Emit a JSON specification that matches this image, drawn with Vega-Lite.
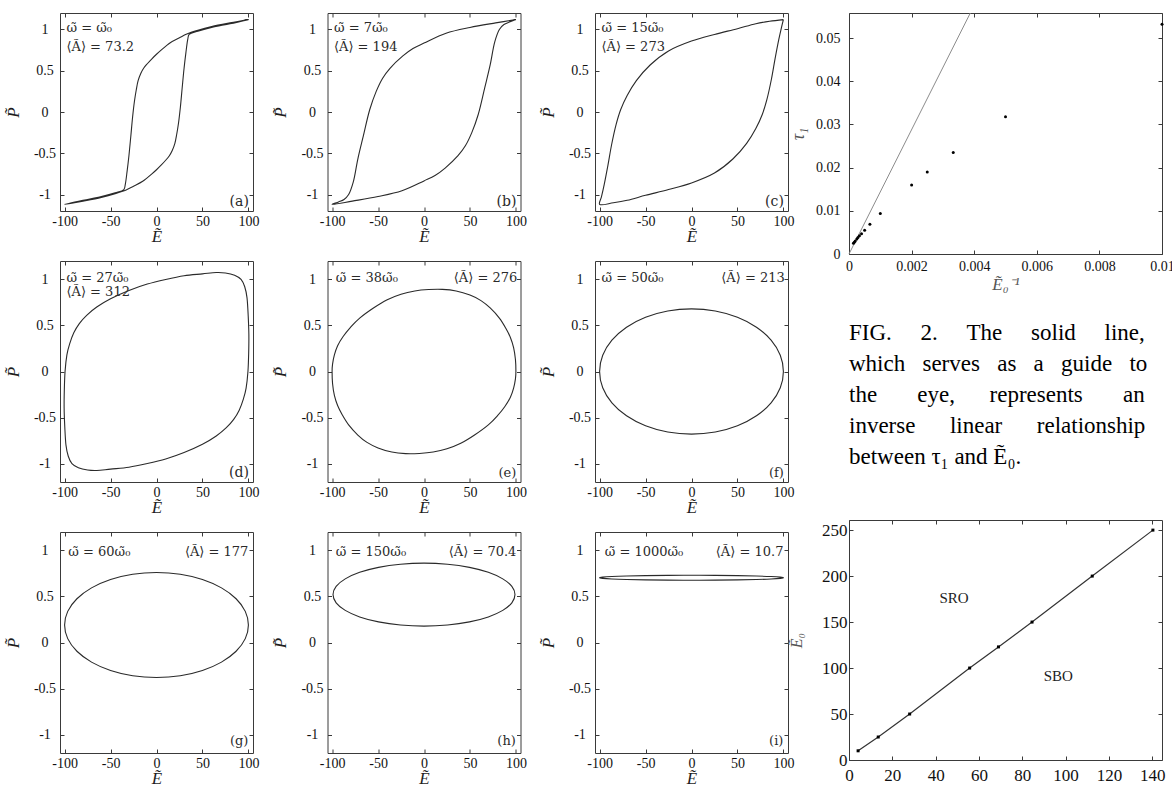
{
"$schema": "https://vega.github.io/schema/vega-lite/v6.json",
"background": "white",
"padding": {"left": 3, "top": 10, "right": 0, "bottom": 0},
"datasets": {
"loops": [
{"p":"a","i":0,"E":100,"P":1.12},{"p":"a","i":1,"E":80,"P":1.08},{"p":"a","i":2,"E":60,"P":1.035},{"p":"a","i":3,"E":45,"P":0.99},{"p":"a","i":4,"E":33,"P":0.945},{"p":"a","i":5,"E":25,"P":0.9},{"p":"a","i":6,"E":15,"P":0.84},{"p":"a","i":7,"E":5,"P":0.75},{"p":"a","i":8,"E":0,"P":0.7},{"p":"a","i":9,"E":-5,"P":0.645},{"p":"a","i":10,"E":-10,"P":0.585},{"p":"a","i":11,"E":-14,"P":0.53},{"p":"a","i":12,"E":-17,"P":0.47},{"p":"a","i":13,"E":-20,"P":0.38},{"p":"a","i":14,"E":-22,"P":0.27},{"p":"a","i":15,"E":-24,"P":0.13},{"p":"a","i":16,"E":-26,"P":-0.06},{"p":"a","i":17,"E":-28,"P":-0.3},{"p":"a","i":18,"E":-30,"P":-0.53},{"p":"a","i":19,"E":-32,"P":-0.72},{"p":"a","i":20,"E":-34,"P":-0.88},{"p":"a","i":21,"E":-35.5,"P":-0.94},{"p":"a","i":22,"E":-45,"P":-0.98},{"p":"a","i":23,"E":-60,"P":-1.025},{"p":"a","i":24,"E":-80,"P":-1.07},
{"p":"a","i":25,"E":-100,"P":-1.12},{"p":"a","i":26,"E":-80,"P":-1.08},{"p":"a","i":27,"E":-60,"P":-1.035},{"p":"a","i":28,"E":-45,"P":-0.99},{"p":"a","i":29,"E":-33,"P":-0.945},{"p":"a","i":30,"E":-25,"P":-0.9},{"p":"a","i":31,"E":-15,"P":-0.84},{"p":"a","i":32,"E":-5,"P":-0.75},{"p":"a","i":33,"E":0,"P":-0.7},{"p":"a","i":34,"E":5,"P":-0.645},{"p":"a","i":35,"E":10,"P":-0.585},{"p":"a","i":36,"E":14,"P":-0.53},{"p":"a","i":37,"E":17,"P":-0.47},{"p":"a","i":38,"E":20,"P":-0.38},{"p":"a","i":39,"E":22,"P":-0.27},{"p":"a","i":40,"E":24,"P":-0.13},{"p":"a","i":41,"E":26,"P":0.06},{"p":"a","i":42,"E":28,"P":0.3},{"p":"a","i":43,"E":30,"P":0.53},{"p":"a","i":44,"E":32,"P":0.72},{"p":"a","i":45,"E":34,"P":0.88},{"p":"a","i":46,"E":35.5,"P":0.94},{"p":"a","i":47,"E":45,"P":0.98},{"p":"a","i":48,"E":60,"P":1.025},{"p":"a","i":49,"E":80,"P":1.07},{"p":"a","i":50,"E":100,"P":1.12},
{"p":"b","i":0,"E":100,"P":1.12},{"p":"b","i":1,"E":78,"P":1.08},{"p":"b","i":2,"E":50,"P":1.025},{"p":"b","i":3,"E":24,"P":0.955},{"p":"b","i":4,"E":0,"P":0.835},{"p":"b","i":5,"E":-12,"P":0.77},{"p":"b","i":6,"E":-23,"P":0.68},{"p":"b","i":7,"E":-37,"P":0.53},{"p":"b","i":8,"E":-45,"P":0.41},{"p":"b","i":9,"E":-52,"P":0.25},{"p":"b","i":10,"E":-59,"P":0.03},{"p":"b","i":11,"E":-66,"P":-0.29},{"p":"b","i":12,"E":-72,"P":-0.57},{"p":"b","i":13,"E":-77,"P":-0.85},{"p":"b","i":14,"E":-82,"P":-1.0},{"p":"b","i":15,"E":-87,"P":-1.06},{"p":"b","i":16,"E":-93,"P":-1.09},
{"p":"b","i":17,"E":-100,"P":-1.12},{"p":"b","i":18,"E":-78,"P":-1.08},{"p":"b","i":19,"E":-50,"P":-1.025},{"p":"b","i":20,"E":-24,"P":-0.955},{"p":"b","i":21,"E":0,"P":-0.835},{"p":"b","i":22,"E":12,"P":-0.77},{"p":"b","i":23,"E":23,"P":-0.68},{"p":"b","i":24,"E":37,"P":-0.53},{"p":"b","i":25,"E":45,"P":-0.41},{"p":"b","i":26,"E":52,"P":-0.25},{"p":"b","i":27,"E":59,"P":-0.03},{"p":"b","i":28,"E":66,"P":0.29},{"p":"b","i":29,"E":72,"P":0.57},{"p":"b","i":30,"E":77,"P":0.85},{"p":"b","i":31,"E":82,"P":1.0},{"p":"b","i":32,"E":87,"P":1.06},{"p":"b","i":33,"E":93,"P":1.09},{"p":"b","i":34,"E":100,"P":1.12},
{"p":"c","i":0,"E":100,"P":1.12},{"p":"c","i":1,"E":85,"P":1.1},{"p":"c","i":2,"E":70,"P":1.07},{"p":"c","i":3,"E":50,"P":1.01},{"p":"c","i":4,"E":25,"P":0.94},{"p":"c","i":5,"E":0,"P":0.86},{"p":"c","i":6,"E":-25,"P":0.74},{"p":"c","i":7,"E":-45,"P":0.57},{"p":"c","i":8,"E":-60,"P":0.38},{"p":"c","i":9,"E":-70,"P":0.2},{"p":"c","i":10,"E":-77,"P":0.03},{"p":"c","i":11,"E":-82,"P":-0.15},{"p":"c","i":12,"E":-87,"P":-0.4},{"p":"c","i":13,"E":-91,"P":-0.65},{"p":"c","i":14,"E":-95,"P":-0.88},{"p":"c","i":15,"E":-98,"P":-1.03},
{"p":"c","i":16,"E":-100,"P":-1.12},{"p":"c","i":17,"E":-85,"P":-1.1},{"p":"c","i":18,"E":-70,"P":-1.07},{"p":"c","i":19,"E":-50,"P":-1.01},{"p":"c","i":20,"E":-25,"P":-0.94},{"p":"c","i":21,"E":0,"P":-0.86},{"p":"c","i":22,"E":25,"P":-0.74},{"p":"c","i":23,"E":45,"P":-0.57},{"p":"c","i":24,"E":60,"P":-0.38},{"p":"c","i":25,"E":70,"P":-0.2},{"p":"c","i":26,"E":77,"P":-0.03},{"p":"c","i":27,"E":82,"P":0.15},{"p":"c","i":28,"E":87,"P":0.4},{"p":"c","i":29,"E":91,"P":0.65},{"p":"c","i":30,"E":95,"P":0.88},{"p":"c","i":31,"E":98,"P":1.03},{"p":"c","i":32,"E":100,"P":1.12},
{"p":"d","i":0,"E":50,"P":1.06},{"p":"d","i":1,"E":65,"P":1.075},{"p":"d","i":2,"E":75,"P":1.07},{"p":"d","i":3,"E":85,"P":1.045},{"p":"d","i":4,"E":92,"P":1.0},{"p":"d","i":5,"E":96,"P":0.92},{"p":"d","i":6,"E":98.5,"P":0.8},{"p":"d","i":7,"E":99.8,"P":0.6},{"p":"d","i":8,"E":100.5,"P":0.4},{"p":"d","i":9,"E":100.3,"P":0.2},{"p":"d","i":10,"E":99.5,"P":0},{"p":"d","i":11,"E":97.5,"P":-0.18},{"p":"d","i":12,"E":94.5,"P":-0.3},{"p":"d","i":13,"E":90,"P":-0.42},{"p":"d","i":14,"E":84,"P":-0.52},{"p":"d","i":15,"E":76,"P":-0.61},{"p":"d","i":16,"E":65,"P":-0.7},{"p":"d","i":17,"E":50,"P":-0.79},{"p":"d","i":18,"E":30,"P":-0.88},{"p":"d","i":19,"E":10,"P":-0.95},{"p":"d","i":20,"E":-10,"P":-1.0},{"p":"d","i":21,"E":-30,"P":-1.04},
{"p":"d","i":22,"E":-50,"P":-1.06},{"p":"d","i":23,"E":-65,"P":-1.075},{"p":"d","i":24,"E":-75,"P":-1.07},{"p":"d","i":25,"E":-85,"P":-1.045},{"p":"d","i":26,"E":-92,"P":-1.0},{"p":"d","i":27,"E":-96,"P":-0.92},{"p":"d","i":28,"E":-98.5,"P":-0.8},{"p":"d","i":29,"E":-99.8,"P":-0.6},{"p":"d","i":30,"E":-100.5,"P":-0.4},{"p":"d","i":31,"E":-100.3,"P":-0.2},{"p":"d","i":32,"E":-99.5,"P":0},{"p":"d","i":33,"E":-97.5,"P":0.18},{"p":"d","i":34,"E":-94.5,"P":0.3},{"p":"d","i":35,"E":-90,"P":0.42},{"p":"d","i":36,"E":-84,"P":0.52},{"p":"d","i":37,"E":-76,"P":0.61},{"p":"d","i":38,"E":-65,"P":0.7},{"p":"d","i":39,"E":-50,"P":0.79},{"p":"d","i":40,"E":-30,"P":0.88},{"p":"d","i":41,"E":-10,"P":0.95},{"p":"d","i":42,"E":10,"P":1.0},{"p":"d","i":43,"E":30,"P":1.04},
{"p":"e","i":0,"E":-100,"P":0},{"p":"e","i":1,"E":-99.5,"P":0.08},{"p":"e","i":2,"E":-97.5,"P":0.18},{"p":"e","i":3,"E":-94,"P":0.28},{"p":"e","i":4,"E":-88,"P":0.38},{"p":"e","i":5,"E":-80,"P":0.48},{"p":"e","i":6,"E":-70,"P":0.58},{"p":"e","i":7,"E":-55,"P":0.69},{"p":"e","i":8,"E":-40,"P":0.78},{"p":"e","i":9,"E":-25,"P":0.84},{"p":"e","i":10,"E":-10,"P":0.875},{"p":"e","i":11,"E":5,"P":0.89},{"p":"e","i":12,"E":20,"P":0.892},{"p":"e","i":13,"E":35,"P":0.875},{"p":"e","i":14,"E":50,"P":0.83},{"p":"e","i":15,"E":62,"P":0.77},{"p":"e","i":16,"E":72,"P":0.69},{"p":"e","i":17,"E":82,"P":0.58},{"p":"e","i":18,"E":89,"P":0.47},{"p":"e","i":19,"E":94,"P":0.37},{"p":"e","i":20,"E":97.5,"P":0.26},{"p":"e","i":21,"E":99.5,"P":0.13},{"p":"e","i":22,"E":100,"P":0},
{"p":"e","i":23,"E":99.5,"P":-0.08},{"p":"e","i":24,"E":97.5,"P":-0.18},{"p":"e","i":25,"E":94,"P":-0.28},{"p":"e","i":26,"E":88,"P":-0.38},{"p":"e","i":27,"E":80,"P":-0.48},{"p":"e","i":28,"E":70,"P":-0.58},{"p":"e","i":29,"E":55,"P":-0.69},{"p":"e","i":30,"E":40,"P":-0.78},{"p":"e","i":31,"E":25,"P":-0.84},{"p":"e","i":32,"E":10,"P":-0.875},{"p":"e","i":33,"E":-5,"P":-0.89},{"p":"e","i":34,"E":-20,"P":-0.892},{"p":"e","i":35,"E":-35,"P":-0.875},{"p":"e","i":36,"E":-50,"P":-0.83},{"p":"e","i":37,"E":-62,"P":-0.77},{"p":"e","i":38,"E":-72,"P":-0.69},{"p":"e","i":39,"E":-82,"P":-0.58},{"p":"e","i":40,"E":-89,"P":-0.47},{"p":"e","i":41,"E":-94,"P":-0.37},{"p":"e","i":42,"E":-97.5,"P":-0.26},{"p":"e","i":43,"E":-99.5,"P":-0.13},
{"p":"f","i":0,"E":100,"P":0},{"p":"f","i":1,"E":96.6,"P":0.176},{"p":"f","i":2,"E":86.6,"P":0.34},{"p":"f","i":3,"E":70.7,"P":0.481},{"p":"f","i":4,"E":50,"P":0.589},{"p":"f","i":5,"E":25.9,"P":0.657},{"p":"f","i":6,"E":0,"P":0.68},{"p":"f","i":7,"E":-25.9,"P":0.657},{"p":"f","i":8,"E":-50,"P":0.589},{"p":"f","i":9,"E":-70.7,"P":0.481},{"p":"f","i":10,"E":-86.6,"P":0.34},{"p":"f","i":11,"E":-96.6,"P":0.176},{"p":"f","i":12,"E":-100,"P":0},{"p":"f","i":13,"E":-96.6,"P":-0.176},{"p":"f","i":14,"E":-86.6,"P":-0.34},{"p":"f","i":15,"E":-70.7,"P":-0.481},{"p":"f","i":16,"E":-50,"P":-0.589},{"p":"f","i":17,"E":-25.9,"P":-0.657},{"p":"f","i":18,"E":0,"P":-0.68},{"p":"f","i":19,"E":25.9,"P":-0.657},{"p":"f","i":20,"E":50,"P":-0.589},{"p":"f","i":21,"E":70.7,"P":-0.481},{"p":"f","i":22,"E":86.6,"P":-0.34},{"p":"f","i":23,"E":96.6,"P":-0.176},
{"p":"g","i":0,"E":100,"P":0.19},{"p":"g","i":1,"E":96.6,"P":0.338},{"p":"g","i":2,"E":86.6,"P":0.475},{"p":"g","i":3,"E":70.7,"P":0.593},{"p":"g","i":4,"E":50,"P":0.684},{"p":"g","i":5,"E":25.9,"P":0.741},{"p":"g","i":6,"E":0,"P":0.76},{"p":"g","i":7,"E":-25.9,"P":0.741},{"p":"g","i":8,"E":-50,"P":0.684},{"p":"g","i":9,"E":-70.7,"P":0.593},{"p":"g","i":10,"E":-86.6,"P":0.475},{"p":"g","i":11,"E":-96.6,"P":0.338},{"p":"g","i":12,"E":-100,"P":0.19},{"p":"g","i":13,"E":-96.6,"P":0.042},{"p":"g","i":14,"E":-86.6,"P":-0.095},{"p":"g","i":15,"E":-70.7,"P":-0.213},{"p":"g","i":16,"E":-50,"P":-0.304},{"p":"g","i":17,"E":-25.9,"P":-0.361},{"p":"g","i":18,"E":0,"P":-0.38},{"p":"g","i":19,"E":25.9,"P":-0.361},{"p":"g","i":20,"E":50,"P":-0.304},{"p":"g","i":21,"E":70.7,"P":-0.213},{"p":"g","i":22,"E":86.6,"P":-0.095},{"p":"g","i":23,"E":96.6,"P":0.042},
{"p":"h","i":0,"E":99,"P":0.52},{"p":"h","i":1,"E":95.6,"P":0.609},{"p":"h","i":2,"E":85.7,"P":0.691},{"p":"h","i":3,"E":70,"P":0.762},{"p":"h","i":4,"E":49.5,"P":0.816},{"p":"h","i":5,"E":25.6,"P":0.85},{"p":"h","i":6,"E":0,"P":0.862},{"p":"h","i":7,"E":-25.6,"P":0.85},{"p":"h","i":8,"E":-49.5,"P":0.816},{"p":"h","i":9,"E":-70,"P":0.762},{"p":"h","i":10,"E":-85.7,"P":0.691},{"p":"h","i":11,"E":-95.6,"P":0.609},{"p":"h","i":12,"E":-99,"P":0.52},{"p":"h","i":13,"E":-95.6,"P":0.431},{"p":"h","i":14,"E":-85.7,"P":0.349},{"p":"h","i":15,"E":-70,"P":0.278},{"p":"h","i":16,"E":-49.5,"P":0.224},{"p":"h","i":17,"E":-25.6,"P":0.19},{"p":"h","i":18,"E":0,"P":0.178},{"p":"h","i":19,"E":25.6,"P":0.19},{"p":"h","i":20,"E":49.5,"P":0.224},{"p":"h","i":21,"E":70,"P":0.278},{"p":"h","i":22,"E":85.7,"P":0.349},{"p":"h","i":23,"E":95.6,"P":0.431},
{"p":"i","i":0,"E":100,"P":0.703},{"p":"i","i":1,"E":96.6,"P":0.71},{"p":"i","i":2,"E":86.6,"P":0.7165},{"p":"i","i":3,"E":70.7,"P":0.722},{"p":"i","i":4,"E":50,"P":0.7264},{"p":"i","i":5,"E":25.9,"P":0.729},{"p":"i","i":6,"E":0,"P":0.73},{"p":"i","i":7,"E":-25.9,"P":0.729},{"p":"i","i":8,"E":-50,"P":0.7264},{"p":"i","i":9,"E":-70.7,"P":0.722},{"p":"i","i":10,"E":-86.6,"P":0.7165},{"p":"i","i":11,"E":-96.6,"P":0.71},{"p":"i","i":12,"E":-100,"P":0.703},{"p":"i","i":13,"E":-96.6,"P":0.696},{"p":"i","i":14,"E":-86.6,"P":0.6895},{"p":"i","i":15,"E":-70.7,"P":0.684},{"p":"i","i":16,"E":-50,"P":0.6796},{"p":"i","i":17,"E":-25.9,"P":0.677},{"p":"i","i":18,"E":0,"P":0.676},{"p":"i","i":19,"E":25.9,"P":0.677},{"p":"i","i":20,"E":50,"P":0.6796},{"p":"i","i":21,"E":70.7,"P":0.684},{"p":"i","i":22,"E":86.6,"P":0.6895},{"p":"i","i":23,"E":96.6,"P":0.696}
],
"notes": [
{"p":"a","k":"omega","t":"\u03c9\u0303 = \u03c9\u0303\u2080","E":-98,"P":1.02},{"p":"a","k":"area","t":"\u27e8\u00c3\u27e9 = 73.2","E":-98,"P":0.79},{"p":"a","k":"tag","t":"(a)","E":100.5,"P":-1.088},
{"p":"b","k":"omega","t":"\u03c9\u0303 = 7\u03c9\u0303\u2080","E":-98,"P":1.02},{"p":"b","k":"area","t":"\u27e8\u00c3\u27e9 = 194","E":-98,"P":0.79},{"p":"b","k":"tag","t":"(b)","E":100.5,"P":-1.088},
{"p":"c","k":"omega","t":"\u03c9\u0303 = 15\u03c9\u0303\u2080","E":-98,"P":1.02},{"p":"c","k":"area","t":"\u27e8\u00c3\u27e9 = 273","E":-98,"P":0.79},{"p":"c","k":"tag","t":"(c)","E":100.5,"P":-1.088},
{"p":"d","k":"omega","t":"\u03c9\u0303 = 27\u03c9\u0303\u2080","E":-98,"P":1.02},{"p":"d","k":"area","t":"\u27e8\u00c3\u27e9 = 312","E":-98,"P":0.86},{"p":"d","k":"tag","t":"(d)","E":100.5,"P":-1.1},
{"p":"e","k":"omega","t":"\u03c9\u0303 = 38\u03c9\u0303\u2080","E":-96,"P":1.02},{"p":"e","k":"area","t":"\u27e8\u00c3\u27e9 = 276","E":101.5,"P":1.02},{"p":"e","k":"tag","t":"(e)","E":100.5,"P":-1.1},
{"p":"f","k":"omega","t":"\u03c9\u0303 = 50\u03c9\u0303\u2080","E":-98,"P":1.02},{"p":"f","k":"area","t":"\u27e8\u00c3\u27e9 = 213","E":101.5,"P":1.02},{"p":"f","k":"tag","t":"(f)","E":100.5,"P":-1.1},
{"p":"g","k":"omega","t":"\u03c9\u0303 = 60\u03c9\u0303\u2080","E":-96,"P":0.985},{"p":"g","k":"area","t":"\u27e8\u00c3\u27e9 = 177","E":100,"P":0.985},{"p":"g","k":"tag","t":"(g)","E":100,"P":-1.07},
{"p":"h","k":"omega","t":"\u03c9\u0303 = 150\u03c9\u0303\u2080","E":-96,"P":0.98},{"p":"h","k":"area","t":"\u27e8\u00c3\u27e9 = 70.4","E":100.5,"P":0.98},{"p":"h","k":"tag","t":"(h)","E":100,"P":-1.07},
{"p":"i","k":"omega","t":"\u03c9\u0303 = 1000\u03c9\u0303\u2080","E":-94.5,"P":0.98},{"p":"i","k":"area","t":"\u27e8\u00c3\u27e9 = 10.7","E":100,"P":0.98},{"p":"i","k":"tag","t":"(i)","E":100,"P":-1.07}
],
"tau": [
{"inv":0.01,"tau":0.0532},{"inv":0.005,"tau":0.0318},{"inv":0.00333,"tau":0.0235},{"inv":0.0025,"tau":0.019},{"inv":0.002,"tau":0.016},{"inv":0.001,"tau":0.0094},{"inv":0.000667,"tau":0.0069},{"inv":0.0005,"tau":0.0055},{"inv":0.0004,"tau":0.0047},{"inv":0.000333,"tau":0.0042},{"inv":0.000286,"tau":0.0038},{"inv":0.00025,"tau":0.0035},{"inv":0.0002,"tau":0.003},{"inv":0.000167,"tau":0.0027},{"inv":0.000143,"tau":0.0025}
],
"guide": [{"inv":0,"tau":0},{"inv":0.003876,"tau":0.0558}],
"phase": [{"w":4.2,"E0":10},{"w":13.5,"E0":25},{"w":28,"E0":50},{"w":55.7,"E0":100},{"w":69,"E0":123},{"w":84.5,"E0":150},{"w":112.3,"E0":200},{"w":140.3,"E0":250}],
"regions": [{"w":48.5,"E0":176,"t":"SRO"},{"w":96.6,"E0":91,"t":"SBO"}],
"caption": [
{"line":1,"t":"FIG. \u00a0\u00a0\u00a0\u00a02. \u00a0\u00a0\u00a0\u00a0The \u00a0\u00a0\u00a0\u00a0solid \u00a0\u00a0\u00a0\u00a0line,"},
{"line":2,"t":"which \u00a0\u00a0serves \u00a0\u00a0as \u00a0\u00a0a \u00a0\u00a0guide \u00a0\u00a0to"},
{"line":3,"t":"the \u00a0\u00a0\u00a0\u00a0\u00a0\u00a0eye, \u00a0\u00a0\u00a0\u00a0\u00a0represents \u00a0\u00a0\u00a0\u00a0\u00a0\u00a0an"},
{"line":4,"t":"inverse \u00a0\u00a0\u00a0\u00a0\u00a0linear \u00a0\u00a0\u00a0\u00a0\u00a0relationship"},
{"line":5,"t":"between \u03c4\u2081 and \u1ebc\u2080."}
]
},
"spacing": -7,
"hconcat": [
{
"columns": 3, "bounds": "flush", "align": "each", "spacing": {"row": 50, "column": 74.5},
"concat": [
{"width":193,"height":198,"encoding":{"x":{"field":"E","type":"quantitative","scale":{"domain":[-105,105],"nice":false,"zero":false},"axis":{"values":[-100,-50,0,50,100],"labelExpr":"''+datum.value","title":"\u1ebc"}},"y":{"field":"P","type":"quantitative","scale":{"domain":[-1.2,1.2],"nice":false,"zero":false},"axis":{"values":[-1,-0.5,0,0.5,1],"labelExpr":"''+datum.value","title":"P\u0303","labelAlign":"center","labelPadding":19.5,"titlePadding":11}}},
"layer":[
{"data":{"name":"loops"},"transform":[{"filter":"datum.p=='a'"}],"mark":{"type":"line","interpolate":"catmull-rom","color":"#2a2a2a","strokeWidth":1.1},"encoding":{"order":{"field":"i","type":"quantitative"}}},
{"data":{"name":"notes"},"transform":[{"filter":"datum.p=='a' && datum.k!='tag'"}],"mark":{"type":"text","align":"left","baseline":"middle"},"encoding":{"text":{"field":"t"},"x":{"field":"E","type":"quantitative","scale":{"domain":[-105,105],"nice":false,"zero":false},"axis":{"orient":"top","values":[-100,-50,0,50,100],"labels":false,"title":null}},"y":{"field":"P","type":"quantitative","scale":{"domain":[-1.2,1.2],"nice":false,"zero":false},"axis":{"orient":"right","values":[-1,-0.5,0,0.5,1],"labels":false,"title":null}}}},
{"data":{"name":"notes"},"transform":[{"filter":"datum.p=='a' && datum.k=='tag'"}],"mark":{"type":"text","align":"right","baseline":"middle","fontSize":14},"encoding":{"text":{"field":"t"},"x":{"field":"E","type":"quantitative","scale":{"domain":[-105,105],"nice":false,"zero":false},"axis":null},"y":{"field":"P","type":"quantitative","scale":{"domain":[-1.2,1.2],"nice":false,"zero":false},"axis":null}}}
],"resolve":{"axis":{"x":"independent","y":"independent"}}},
{"width":193,"height":198,"encoding":{"x":{"field":"E","type":"quantitative","scale":{"domain":[-105,105],"nice":false,"zero":false},"axis":{"values":[-100,-50,0,50,100],"labelExpr":"''+datum.value","title":"\u1ebc"}},"y":{"field":"P","type":"quantitative","scale":{"domain":[-1.2,1.2],"nice":false,"zero":false},"axis":{"values":[-1,-0.5,0,0.5,1],"labelExpr":"''+datum.value","title":"P\u0303","labelAlign":"center","labelPadding":19.5,"titlePadding":11}}},
"layer":[
{"data":{"name":"loops"},"transform":[{"filter":"datum.p=='b'"}],"mark":{"type":"line","interpolate":"catmull-rom","color":"#2a2a2a","strokeWidth":1.1},"encoding":{"order":{"field":"i","type":"quantitative"}}},
{"data":{"name":"notes"},"transform":[{"filter":"datum.p=='b' && datum.k!='tag'"}],"mark":{"type":"text","align":"left","baseline":"middle"},"encoding":{"text":{"field":"t"},"x":{"field":"E","type":"quantitative","scale":{"domain":[-105,105],"nice":false,"zero":false},"axis":{"orient":"top","values":[-100,-50,0,50,100],"labels":false,"title":null}},"y":{"field":"P","type":"quantitative","scale":{"domain":[-1.2,1.2],"nice":false,"zero":false},"axis":{"orient":"right","values":[-1,-0.5,0,0.5,1],"labels":false,"title":null}}}},
{"data":{"name":"notes"},"transform":[{"filter":"datum.p=='b' && datum.k=='tag'"}],"mark":{"type":"text","align":"right","baseline":"middle","fontSize":14},"encoding":{"text":{"field":"t"},"x":{"field":"E","type":"quantitative","scale":{"domain":[-105,105],"nice":false,"zero":false},"axis":null},"y":{"field":"P","type":"quantitative","scale":{"domain":[-1.2,1.2],"nice":false,"zero":false},"axis":null}}}
],"resolve":{"axis":{"x":"independent","y":"independent"}}},
{"width":193,"height":198,"encoding":{"x":{"field":"E","type":"quantitative","scale":{"domain":[-105,105],"nice":false,"zero":false},"axis":{"values":[-100,-50,0,50,100],"labelExpr":"''+datum.value","title":"\u1ebc"}},"y":{"field":"P","type":"quantitative","scale":{"domain":[-1.2,1.2],"nice":false,"zero":false},"axis":{"values":[-1,-0.5,0,0.5,1],"labelExpr":"''+datum.value","title":"P\u0303","labelAlign":"center","labelPadding":19.5,"titlePadding":11}}},
"layer":[
{"data":{"name":"loops"},"transform":[{"filter":"datum.p=='c'"}],"mark":{"type":"line","interpolate":"catmull-rom","color":"#2a2a2a","strokeWidth":1.1},"encoding":{"order":{"field":"i","type":"quantitative"}}},
{"data":{"name":"notes"},"transform":[{"filter":"datum.p=='c' && datum.k!='tag'"}],"mark":{"type":"text","align":"left","baseline":"middle"},"encoding":{"text":{"field":"t"},"x":{"field":"E","type":"quantitative","scale":{"domain":[-105,105],"nice":false,"zero":false},"axis":{"orient":"top","values":[-100,-50,0,50,100],"labels":false,"title":null}},"y":{"field":"P","type":"quantitative","scale":{"domain":[-1.2,1.2],"nice":false,"zero":false},"axis":{"orient":"right","values":[-1,-0.5,0,0.5,1],"labels":false,"title":null}}}},
{"data":{"name":"notes"},"transform":[{"filter":"datum.p=='c' && datum.k=='tag'"}],"mark":{"type":"text","align":"right","baseline":"middle","fontSize":14},"encoding":{"text":{"field":"t"},"x":{"field":"E","type":"quantitative","scale":{"domain":[-105,105],"nice":false,"zero":false},"axis":null},"y":{"field":"P","type":"quantitative","scale":{"domain":[-1.2,1.2],"nice":false,"zero":false},"axis":null}}}
],"resolve":{"axis":{"x":"independent","y":"independent"}}},
{"width":193,"height":221,"encoding":{"x":{"field":"E","type":"quantitative","scale":{"domain":[-105,105],"nice":false,"zero":false},"axis":{"values":[-100,-50,0,50,100],"labelExpr":"''+datum.value","title":"\u1ebc"}},"y":{"field":"P","type":"quantitative","scale":{"domain":[-1.2,1.2],"nice":false,"zero":false},"axis":{"values":[-1,-0.5,0,0.5,1],"labelExpr":"''+datum.value","title":"P\u0303","labelAlign":"center","labelPadding":19.5,"titlePadding":11}}},
"layer":[
{"data":{"name":"loops"},"transform":[{"filter":"datum.p=='d'"}],"mark":{"type":"line","interpolate":"cardinal-closed","color":"#2a2a2a","strokeWidth":1.1},"encoding":{"order":{"field":"i","type":"quantitative"}}},
{"data":{"name":"notes"},"transform":[{"filter":"datum.p=='d' && datum.k!='tag'"}],"mark":{"type":"text","align":"left","baseline":"middle"},"encoding":{"text":{"field":"t"},"x":{"field":"E","type":"quantitative","scale":{"domain":[-105,105],"nice":false,"zero":false},"axis":{"orient":"top","values":[-100,-50,0,50,100],"labels":false,"title":null}},"y":{"field":"P","type":"quantitative","scale":{"domain":[-1.2,1.2],"nice":false,"zero":false},"axis":{"orient":"right","values":[-1,-0.5,0,0.5,1],"labels":false,"title":null}}}},
{"data":{"name":"notes"},"transform":[{"filter":"datum.p=='d' && datum.k=='tag'"}],"mark":{"type":"text","align":"right","baseline":"middle","fontSize":14},"encoding":{"text":{"field":"t"},"x":{"field":"E","type":"quantitative","scale":{"domain":[-105,105],"nice":false,"zero":false},"axis":null},"y":{"field":"P","type":"quantitative","scale":{"domain":[-1.2,1.2],"nice":false,"zero":false},"axis":null}}}
],"resolve":{"axis":{"x":"independent","y":"independent"}}},
{"width":193,"height":221,"encoding":{"x":{"field":"E","type":"quantitative","scale":{"domain":[-105,105],"nice":false,"zero":false},"axis":{"values":[-100,-50,0,50,100],"labelExpr":"''+datum.value","title":"\u1ebc"}},"y":{"field":"P","type":"quantitative","scale":{"domain":[-1.2,1.2],"nice":false,"zero":false},"axis":{"values":[-1,-0.5,0,0.5,1],"labelExpr":"''+datum.value","title":"P\u0303","labelAlign":"center","labelPadding":19.5,"titlePadding":11}}},
"layer":[
{"data":{"name":"loops"},"transform":[{"filter":"datum.p=='e'"}],"mark":{"type":"line","interpolate":"cardinal-closed","color":"#2a2a2a","strokeWidth":1.1},"encoding":{"order":{"field":"i","type":"quantitative"}}},
{"data":{"name":"notes"},"transform":[{"filter":"datum.p=='e' && datum.k=='omega'"}],"mark":{"type":"text","align":"left","baseline":"middle"},"encoding":{"text":{"field":"t"},"x":{"field":"E","type":"quantitative","scale":{"domain":[-105,105],"nice":false,"zero":false},"axis":{"orient":"top","values":[-100,-50,0,50,100],"labels":false,"title":null}},"y":{"field":"P","type":"quantitative","scale":{"domain":[-1.2,1.2],"nice":false,"zero":false},"axis":{"orient":"right","values":[-1,-0.5,0,0.5,1],"labels":false,"title":null}}}},
{"data":{"name":"notes"},"transform":[{"filter":"datum.p=='e' && datum.k!='omega'"}],"mark":{"type":"text","align":"right","baseline":"middle"},"encoding":{"text":{"field":"t"},"x":{"field":"E","type":"quantitative","scale":{"domain":[-105,105],"nice":false,"zero":false},"axis":null},"y":{"field":"P","type":"quantitative","scale":{"domain":[-1.2,1.2],"nice":false,"zero":false},"axis":null}}}
],"resolve":{"axis":{"x":"independent","y":"independent"}}},
{"width":193,"height":221,"encoding":{"x":{"field":"E","type":"quantitative","scale":{"domain":[-105,105],"nice":false,"zero":false},"axis":{"values":[-100,-50,0,50,100],"labelExpr":"''+datum.value","title":"\u1ebc"}},"y":{"field":"P","type":"quantitative","scale":{"domain":[-1.2,1.2],"nice":false,"zero":false},"axis":{"values":[-1,-0.5,0,0.5,1],"labelExpr":"''+datum.value","title":"P\u0303","labelAlign":"center","labelPadding":19.5,"titlePadding":11}}},
"layer":[
{"data":{"name":"loops"},"transform":[{"filter":"datum.p=='f'"}],"mark":{"type":"line","interpolate":"cardinal-closed","color":"#2a2a2a","strokeWidth":1.1},"encoding":{"order":{"field":"i","type":"quantitative"}}},
{"data":{"name":"notes"},"transform":[{"filter":"datum.p=='f' && datum.k=='omega'"}],"mark":{"type":"text","align":"left","baseline":"middle"},"encoding":{"text":{"field":"t"},"x":{"field":"E","type":"quantitative","scale":{"domain":[-105,105],"nice":false,"zero":false},"axis":{"orient":"top","values":[-100,-50,0,50,100],"labels":false,"title":null}},"y":{"field":"P","type":"quantitative","scale":{"domain":[-1.2,1.2],"nice":false,"zero":false},"axis":{"orient":"right","values":[-1,-0.5,0,0.5,1],"labels":false,"title":null}}}},
{"data":{"name":"notes"},"transform":[{"filter":"datum.p=='f' && datum.k!='omega'"}],"mark":{"type":"text","align":"right","baseline":"middle"},"encoding":{"text":{"field":"t"},"x":{"field":"E","type":"quantitative","scale":{"domain":[-105,105],"nice":false,"zero":false},"axis":null},"y":{"field":"P","type":"quantitative","scale":{"domain":[-1.2,1.2],"nice":false,"zero":false},"axis":null}}}
],"resolve":{"axis":{"x":"independent","y":"independent"}}},
{"width":193,"height":221,"encoding":{"x":{"field":"E","type":"quantitative","scale":{"domain":[-105,105],"nice":false,"zero":false},"axis":{"values":[-100,-50,0,50,100],"labelExpr":"''+datum.value","title":"\u1ebc"}},"y":{"field":"P","type":"quantitative","scale":{"domain":[-1.2,1.2],"nice":false,"zero":false},"axis":{"values":[-1,-0.5,0,0.5,1],"labelExpr":"''+datum.value","title":"P\u0303","labelAlign":"center","labelPadding":19.5,"titlePadding":11}}},
"layer":[
{"data":{"name":"loops"},"transform":[{"filter":"datum.p=='g'"}],"mark":{"type":"line","interpolate":"cardinal-closed","color":"#2a2a2a","strokeWidth":1.1},"encoding":{"order":{"field":"i","type":"quantitative"}}},
{"data":{"name":"notes"},"transform":[{"filter":"datum.p=='g' && datum.k=='omega'"}],"mark":{"type":"text","align":"left","baseline":"middle"},"encoding":{"text":{"field":"t"},"x":{"field":"E","type":"quantitative","scale":{"domain":[-105,105],"nice":false,"zero":false},"axis":{"orient":"top","values":[-100,-50,0,50,100],"labels":false,"title":null}},"y":{"field":"P","type":"quantitative","scale":{"domain":[-1.2,1.2],"nice":false,"zero":false},"axis":{"orient":"right","values":[-1,-0.5,0,0.5,1],"labels":false,"title":null}}}},
{"data":{"name":"notes"},"transform":[{"filter":"datum.p=='g' && datum.k!='omega'"}],"mark":{"type":"text","align":"right","baseline":"middle"},"encoding":{"text":{"field":"t"},"x":{"field":"E","type":"quantitative","scale":{"domain":[-105,105],"nice":false,"zero":false},"axis":null},"y":{"field":"P","type":"quantitative","scale":{"domain":[-1.2,1.2],"nice":false,"zero":false},"axis":null}}}
],"resolve":{"axis":{"x":"independent","y":"independent"}}},
{"width":193,"height":221,"encoding":{"x":{"field":"E","type":"quantitative","scale":{"domain":[-105,105],"nice":false,"zero":false},"axis":{"values":[-100,-50,0,50,100],"labelExpr":"''+datum.value","title":"\u1ebc"}},"y":{"field":"P","type":"quantitative","scale":{"domain":[-1.2,1.2],"nice":false,"zero":false},"axis":{"values":[-1,-0.5,0,0.5,1],"labelExpr":"''+datum.value","title":"P\u0303","labelAlign":"center","labelPadding":19.5,"titlePadding":11}}},
"layer":[
{"data":{"name":"loops"},"transform":[{"filter":"datum.p=='h'"}],"mark":{"type":"line","interpolate":"cardinal-closed","color":"#2a2a2a","strokeWidth":1.1},"encoding":{"order":{"field":"i","type":"quantitative"}}},
{"data":{"name":"notes"},"transform":[{"filter":"datum.p=='h' && datum.k=='omega'"}],"mark":{"type":"text","align":"left","baseline":"middle"},"encoding":{"text":{"field":"t"},"x":{"field":"E","type":"quantitative","scale":{"domain":[-105,105],"nice":false,"zero":false},"axis":{"orient":"top","values":[-100,-50,0,50,100],"labels":false,"title":null}},"y":{"field":"P","type":"quantitative","scale":{"domain":[-1.2,1.2],"nice":false,"zero":false},"axis":{"orient":"right","values":[-1,-0.5,0,0.5,1],"labels":false,"title":null}}}},
{"data":{"name":"notes"},"transform":[{"filter":"datum.p=='h' && datum.k!='omega'"}],"mark":{"type":"text","align":"right","baseline":"middle"},"encoding":{"text":{"field":"t"},"x":{"field":"E","type":"quantitative","scale":{"domain":[-105,105],"nice":false,"zero":false},"axis":null},"y":{"field":"P","type":"quantitative","scale":{"domain":[-1.2,1.2],"nice":false,"zero":false},"axis":null}}}
],"resolve":{"axis":{"x":"independent","y":"independent"}}},
{"width":193,"height":221,"encoding":{"x":{"field":"E","type":"quantitative","scale":{"domain":[-105,105],"nice":false,"zero":false},"axis":{"values":[-100,-50,0,50,100],"labelExpr":"''+datum.value","title":"\u1ebc"}},"y":{"field":"P","type":"quantitative","scale":{"domain":[-1.2,1.2],"nice":false,"zero":false},"axis":{"values":[-1,-0.5,0,0.5,1],"labelExpr":"''+datum.value","title":"P\u0303","labelAlign":"center","labelPadding":19.5,"titlePadding":11}}},
"layer":[
{"data":{"name":"loops"},"transform":[{"filter":"datum.p=='i'"}],"mark":{"type":"line","interpolate":"cardinal-closed","color":"#2a2a2a","strokeWidth":1.1},"encoding":{"order":{"field":"i","type":"quantitative"}}},
{"data":{"name":"notes"},"transform":[{"filter":"datum.p=='i' && datum.k=='omega'"}],"mark":{"type":"text","align":"left","baseline":"middle"},"encoding":{"text":{"field":"t"},"x":{"field":"E","type":"quantitative","scale":{"domain":[-105,105],"nice":false,"zero":false},"axis":{"orient":"top","values":[-100,-50,0,50,100],"labels":false,"title":null}},"y":{"field":"P","type":"quantitative","scale":{"domain":[-1.2,1.2],"nice":false,"zero":false},"axis":{"orient":"right","values":[-1,-0.5,0,0.5,1],"labels":false,"title":null}}}},
{"data":{"name":"notes"},"transform":[{"filter":"datum.p=='i' && datum.k!='omega'"}],"mark":{"type":"text","align":"right","baseline":"middle"},"encoding":{"text":{"field":"t"},"x":{"field":"E","type":"quantitative","scale":{"domain":[-105,105],"nice":false,"zero":false},"axis":null},"y":{"field":"P","type":"quantitative","scale":{"domain":[-1.2,1.2],"nice":false,"zero":false},"axis":null}}}
],"resolve":{"axis":{"x":"independent","y":"independent"}}}
]
},
{
"bounds": "flush", "spacing": 50,
"vconcat": [
{"width":313,"height":241,
"encoding":{"x":{"field":"inv","type":"quantitative","scale":{"domain":[0,0.01],"nice":false,"zero":false},"axis":{"values":[0,0.002,0.004,0.006,0.008,0.01],"labelExpr":"''+datum.value","title":"\u1ebc\u2080\u207b\u00b9","labelFontSize":14,"titleFontSize":17,"titleColor":"#555","labelPadding":9,"titlePadding":3}},
"y":{"field":"tau","type":"quantitative","scale":{"domain":[0,0.0558],"nice":false,"zero":false},"axis":{"values":[0,0.01,0.02,0.03,0.04,0.05],"labelExpr":"''+datum.value","title":"\u03c4\u2081","labelFontSize":14,"titleFontSize":18,"titleColor":"#555","labelPadding":13,"titlePadding":8}}},
"layer":[
{"data":{"name":"guide"},"mark":{"type":"line","color":"#8c8c8c","strokeWidth":1}},
{"data":{"name":"tau"},"mark":{"type":"circle","size":9,"color":"#000","opacity":1},"encoding":{"x":{"field":"inv","type":"quantitative","scale":{"domain":[0,0.01],"nice":false,"zero":false},"axis":{"orient":"top","values":[0,0.002,0.004,0.006,0.008,0.01],"labels":false,"title":null}},"y":{"field":"tau","type":"quantitative","scale":{"domain":[0,0.0558],"nice":false,"zero":false},"axis":{"orient":"right","values":[0,0.01,0.02,0.03,0.04,0.05],"labels":false,"title":null}}}}
],"resolve":{"axis":{"x":"independent","y":"independent"}}},
{"width":313,"height":165.5,"view":{"stroke":null},
"data":{"name":"caption"},
"mark":{"type":"text","align":"left","baseline":"alphabetic","fontSize":23,"color":"#000","font":"Liberation Serif"},
"encoding":{"x":{"datum":0,"type":"quantitative","scale":{"domain":[0,1]},"axis":null},
"y":{"field":"line","type":"quantitative","scale":{"domain":[-0.177,5.162],"reverse":true},"axis":null},
"text":{"field":"t"}}},
{"width":313,"height":240,
"encoding":{"x":{"field":"w","type":"quantitative","scale":{"domain":[0,144.5],"nice":false,"zero":false},"axis":{"values":[0,20,40,60,80,100,120,140],"labelExpr":"''+datum.value","title":"\u03c9\u0303/\u03c9\u0303\u2080","labelFontSize":17,"titleFontSize":15,"titleColor":"#555","labelPadding":11,"titlePadding":4}},
"y":{"field":"E0","type":"quantitative","scale":{"domain":[0,261],"nice":false,"zero":false},"axis":{"values":[0,50,100,150,200,250],"labelExpr":"''+datum.value","title":"\u1ebc\u2080","labelFontSize":17,"titleFontSize":16,"titleColor":"#555","labelPadding":6,"titlePadding":17}}},
"layer":[
{"data":{"name":"phase"},"mark":{"type":"line","color":"#333","strokeWidth":1.2},"encoding":{"order":{"field":"w","type":"quantitative"}}},
{"data":{"name":"phase"},"mark":{"type":"square","size":9,"color":"#000","opacity":1},"encoding":{"x":{"field":"w","type":"quantitative","scale":{"domain":[0,144.5],"nice":false,"zero":false},"axis":{"orient":"top","values":[0,20,40,60,80,100,120,140],"labels":false,"title":null}},"y":{"field":"E0","type":"quantitative","scale":{"domain":[0,261],"nice":false,"zero":false},"axis":{"orient":"right","values":[0,50,100,150,200,250],"labels":false,"title":null}}}},
{"data":{"name":"regions"},"mark":{"type":"text","fontSize":15,"color":"#222","font":"Liberation Serif"},"encoding":{"text":{"field":"t"},"x":{"field":"w","type":"quantitative","scale":{"domain":[0,144.5],"nice":false,"zero":false},"axis":null},"y":{"field":"E0","type":"quantitative","scale":{"domain":[0,261],"nice":false,"zero":false},"axis":null}}}
],"resolve":{"axis":{"x":"independent","y":"independent"}}}
]
}
],
"config": {
"view": {"stroke": "#3a3a3a", "strokeWidth": 1},
"axis": {"grid": false, "domain": false, "tickColor": "#3a3a3a", "tickSize": -4, "tickWidth": 1, "labelFont": "Liberation Serif", "labelFontSize": 14, "labelColor": "#111", "titleFont": "Liberation Serif", "titleFontSize": 17, "titleFontWeight": "normal", "titleFontStyle": "italic", "titleColor": "#1e1e1e", "minExtent": 0, "labelFlush": false, "labelOverlap": false},
"axisX": {"labelPadding": 7.5, "titlePadding": 0},
"axisY": {"labelPadding": 11, "titlePadding": 10},
"text": {"font": "DejaVu Serif", "fontSize": 13, "color": "#2a2a2a"}
}
}
